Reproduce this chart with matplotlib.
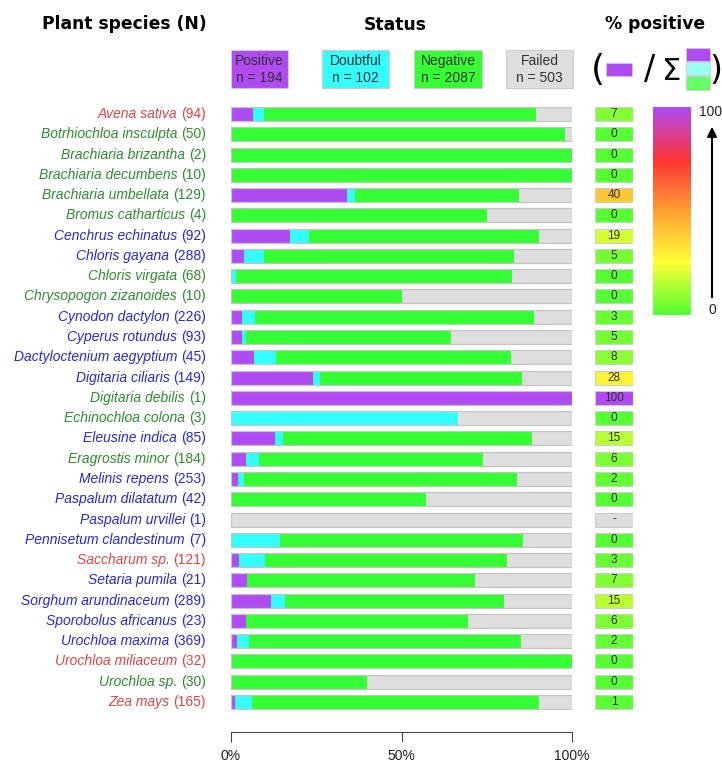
import matplotlib
matplotlib.use("Agg")
import matplotlib.pyplot as plt
import numpy as np
from matplotlib.patches import Rectangle
from matplotlib.colors import LinearSegmentedColormap

species = ["Avena sativa", "Botrhiochloa insculpta", "Brachiaria brizantha", "Brachiaria decumbens",
           "Brachiaria umbellata", "Bromus catharticus", "Cenchrus echinatus", "Chloris gayana",
           "Chloris virgata", "Chrysopogon zizanoides", "Cynodon dactylon", "Cyperus rotundus",
           "Dactyloctenium aegyptium", "Digitaria ciliaris", "Digitaria debilis", "Echinochloa colona",
           "Eleusine indica", "Eragrostis minor", "Melinis repens", "Paspalum dilatatum",
           "Paspalum urvillei", "Pennisetum clandestinum", "Saccharum sp.", "Setaria pumila",
           "Sorghum arundinaceum", "Sporobolus africanus", "Urochloa maxima", "Urochloa miliaceum",
           "Urochloa sp.", "Zea mays"]
n_total = [94, 50, 2, 10, 129, 4, 92, 288, 68, 10, 226, 93, 45, 149, 1, 3, 85, 184, 253, 42,
           1, 7, 121, 21, 289, 23, 369, 32, 30, 165]
group = ["r", "g", "g", "g", "g", "g", "b", "b", "g", "g", "b", "b", "b", "b", "g", "g",
         "b", "g", "b", "b", "b", "b", "r", "b", "b", "b", "b", "r", "g", "r"]
positive = [6, 0, 0, 0, 44, 0, 16, 11, 0, 0, 7, 3, 3, 36, 1, 0, 11, 8, 5, 0, 0, 0, 3, 1, 34, 1, 7, 0, 0, 2]
doubtful = [3, 0, 0, 0, 3, 0, 5, 17, 1, 0, 9, 1, 3, 3, 0, 2, 2, 7, 5, 0, 0, 1, 9, 0, 12, 0, 12, 0, 0, 8]
negative = [75, 49, 2, 10, 62, 3, 62, 211, 55, 5, 185, 56, 31, 88, 0, 0, 62, 121, 202, 24,
            0, 5, 86, 14, 185, 15, 295, 32, 12, 139]
failed = [10, 1, 0, 0, 20, 1, 9, 49, 12, 5, 25, 33, 8, 22, 0, 1, 10, 48, 41, 18,
          1, 1, 23, 6, 58, 7, 55, 0, 18, 16]
pct_labels = ["7", "0", "0", "0", "40", "0", "19", "5", "0", "0", "3", "5", "8", "28", "100", "0",
              "15", "6", "2", "0", "-", "0", "3", "7", "15", "6", "2", "0", "0", "1"]
status_names = ["Positive", "Doubtful", "Negative", "Failed"]
status_n = [194, 102, 2087, 503]
tick_vals = [0, 50, 100]
tick_labels = ["0%", "50%", "100%"]

C_POS, C_DOU, C_NEG, C_FAIL = "#B04AF2", "#33FFFF", "#33FF33", "#DEDEDE"
status_colors = [C_POS, C_DOU, C_NEG, C_FAIL]
label_colors = {"r": "#D94545", "g": "#2E8B2E", "b": "#2828CC"}

W, H = 722, 765
fig = plt.figure(figsize=(W / 100, H / 100), dpi=100)

def fx(px):
    return px / W

def fy(py):
    return 1 - py / H

SANS = ["Liberation Sans", "DejaVu Sans"]
NARROW = ["Liberation Sans Narrow", "Liberation Sans", "DejaVu Sans"]

nrow = len(species)
row0, row_last = 114, 702
step = (row_last - row0) / (nrow - 1)
ax_top_px, ax_bot_px = 100, 732
ylim_top = -(row0 - ax_top_px) / step
ylim_bot = (nrow - 1) + (ax_bot_px - row_last) / step

ax = fig.add_axes([fx(231), fy(ax_bot_px), fx(572) - fx(231), (ax_bot_px - ax_top_px) / H])
ax.set_xlim(0, 100)
ax.set_ylim(ylim_bot, ylim_top)
bh = 14 / step
y = np.arange(nrow)
tot = np.array(n_total, dtype=float)
segs = [np.array(positive), np.array(doubtful), np.array(negative), np.array(failed)]
left = np.zeros(nrow)
for vals, col in zip(segs, status_colors):
    w = vals / tot * 100
    ax.barh(y, w, left=left, height=bh, color=col, edgecolor="none", linewidth=0)
    left = left + w
ax.barh(y, np.full(nrow, 100.0), height=bh, color="none", edgecolor="#C4C4C4", linewidth=0.9)
for s in ["top", "right", "left"]:
    ax.spines[s].set_visible(False)
ax.spines["bottom"].set_bounds(0, 100)
ax.spines["bottom"].set_color("#444444")
ax.set_yticks([])
ax.set_xticks(tick_vals)
ax.set_xticklabels(tick_labels, fontsize=10, family=SANS, color="#222222")
ax.tick_params(axis="x", direction="out", length=7, color="#444444", pad=5)

# species labels
fig.canvas.draw()
renderer = fig.canvas.get_renderer()
xr = 206
for i, (sp, n, g) in enumerate(zip(species, n_total, group)):
    ypx = row0 + i * step
    col = label_colors[g]
    t = fig.text(fx(xr), fy(ypx), f"({n})", ha="right", va="center", fontsize=10,
                 family=SANS, color=col)
    bb = t.get_window_extent(renderer)
    fig.text(fx(xr - bb.width - 4), fy(ypx), sp, ha="right", va="center", fontsize=10,
             family=SANS, style="italic", color=col)

# % positive boxes
cmap = LinearSegmentedColormap.from_list(
    "pos", [(0, "#55FF33"), (0.25, "#FFFF33"), (0.5, "#FFA033"), (0.75, "#FF3333"), (1.0, "#B04AF2")])
ax2 = fig.add_axes([fx(595), fy(ax_bot_px), fx(633) - fx(595), (ax_bot_px - ax_top_px) / H])
ax2.set_xlim(0, 1)
ax2.set_ylim(ylim_bot, ylim_top)
ax2.axis("off")
for i, lab in enumerate(pct_labels):
    fc = C_FAIL if lab == "-" else cmap(float(lab) / 100)
    ax2.add_patch(Rectangle((0, i - bh / 2), 1, bh, facecolor=fc, edgecolor="#CCCCCC", linewidth=0.8))
    ax2.text(0.5, i, lab, ha="center", va="center", fontsize=8.5, family=SANS, color="#333333")

# colorbar
cax = fig.add_axes([fx(653), fy(315), fx(691) - fx(653), (315 - 107) / H])
grad = np.linspace(0, 1, 60).reshape(-1, 1)
cax.imshow(grad, aspect="auto", cmap=cmap, origin="lower", extent=[0, 1, 0, 1])
cax.axis("off")
fig.text(fx(699), fy(112), "100", ha="left", va="center", fontsize=10, family=SANS, color="#222222")
fig.text(fx(712), fy(310), "0", ha="center", va="center", fontsize=10, family=SANS, color="#222222")
fig.patches.append(matplotlib.patches.FancyArrowPatch(
    (fx(712), fy(300)), (fx(712), fy(124)), transform=fig.transFigure, arrowstyle="-|>",
    mutation_scale=14, color="black", linewidth=1.5))

# headers
hdr = dict(ha="center", va="center", fontsize=12.3, fontweight="bold", family=["DejaVu Sans"])
fig.text(fx(124), fy(24), "Plant species (N)", **hdr)
fig.text(fx(395), fy(25), "Status", **hdr)
fig.text(fx(655), fy(24), "% positive", **hdr)

# legend boxes
box_x = [(231, 288), (322, 389), (414, 482), (506, 573)]
for (x0, x1), name, n, col in zip(box_x, status_names, status_n, status_colors):
    fig.patches.append(Rectangle((fx(x0), fy(88)), fx(x1) - fx(x0), (88 - 50) / H,
                                 transform=fig.transFigure, facecolor=col, edgecolor="#CCCCCC",
                                 linewidth=0.8))
    fig.text(fx((x0 + x1) / 2), fy(61), name, ha="center", va="center", fontsize=10,
             family=NARROW, color="#333333")
    fig.text(fx((x0 + x1) / 2), fy(78), f"n = {n}", ha="center", va="center", fontsize=10,
             family=NARROW, color="#333333")

# formula
fig.text(fx(598), fy(70), "(", ha="center", va="center", fontsize=26, family=["DejaVu Sans"])
fig.patches.append(Rectangle((fx(606), fy(76)), fx(632) - fx(606), 13 / H, transform=fig.transFigure,
                             facecolor=C_POS, edgecolor="#CCCCCC", linewidth=0.6))
fig.text(fx(650), fy(70), "/", ha="center", va="center", fontsize=24, family=["DejaVu Sans"])
fig.text(fx(672), fy(71), "\u03a3", ha="center", va="center", fontsize=22, family=["DejaVu Sans"])
for (yt, yb, col) in [(48, 61, C_POS), (62, 75, "#99FFEE"), (76, 90, "#66FF66")]:
    fig.patches.append(Rectangle((fx(686), fy(yb)), fx(710) - fx(686), (yb - yt) / H,
                                 transform=fig.transFigure, facecolor=col, edgecolor="#CCCCCC",
                                 linewidth=0.6))
fig.text(fx(716), fy(70), ")", ha="center", va="center", fontsize=24, family=["DejaVu Sans"])

fig.savefig("out.png", dpi=100, facecolor="white")
